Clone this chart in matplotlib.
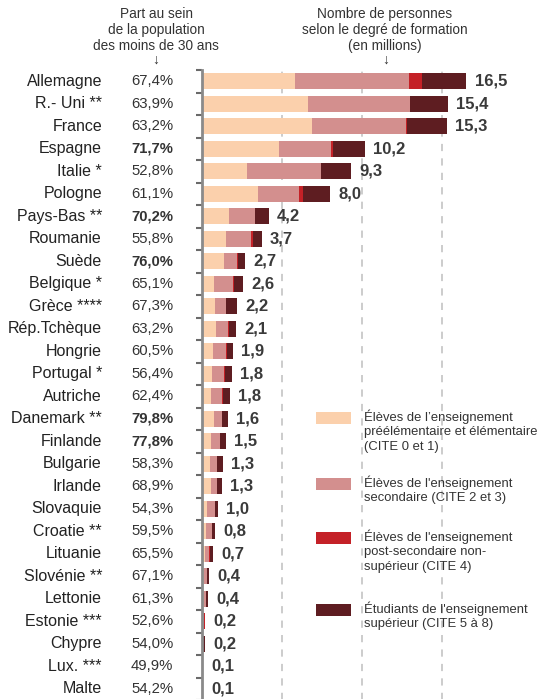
import matplotlib
matplotlib.use("Agg")
import matplotlib.pyplot as plt
from matplotlib import transforms
from matplotlib.patches import Rectangle

plt.rcParams['font.family'] = ['Liberation Sans', 'DejaVu Sans']

countries = ["Allemagne", "R.- Uni **", "France", "Espagne", "Italie *", "Pologne",
             "Pays-Bas **", "Roumanie", "Suède", "Belgique *", "Grèce ****", "Rép.Tchèque",
             "Hongrie", "Portugal *", "Autriche", "Danemark **", "Finlande", "Bulgarie",
             "Irlande", "Slovaquie", "Croatie **", "Lituanie", "Slovénie **", "Lettonie",
             "Estonie ***", "Chypre", "Lux. ***", "Malte"]
part = ["67,4%", "63,9%", "63,2%", "71,7%", "52,8%", "61,1%", "70,2%", "55,8%", "76,0%",
        "65,1%", "67,3%", "63,2%", "60,5%", "56,4%", "62,4%", "79,8%", "77,8%", "58,3%",
        "68,9%", "54,3%", "59,5%", "65,5%", "67,1%", "61,3%", "52,6%", "54,0%", "49,9%", "54,2%"]
part_bold = ["Espagne", "Pays-Bas **", "Suède", "Danemark **", "Finlande"]
totals = ["16,5", "15,4", "15,3", "10,2", "9,3", "8,0", "4,2", "3,7", "2,7", "2,6", "2,2",
          "2,1", "1,9", "1,8", "1,8", "1,6", "1,5", "1,3", "1,3", "1,0", "0,8", "0,7",
          "0,4", "0,4", "0,2", "0,2", "0,1", "0,1"]

# millions d'eleves / etudiants par niveau
cite01 = [5.79, 6.60, 6.85, 4.79, 2.79, 3.48, 1.67, 1.48, 1.35, 0.73, 0.79, 0.85, 0.67, 0.60,
          0.54, 0.73, 0.56, 0.48, 0.54, 0.29, 0.23, 0.17, 0.14, 0.13, 0.08, 0.03, 0.02, 0.03]
cite23 = [7.13, 6.38, 5.92, 3.29, 4.63, 2.56, 1.62, 1.58, 0.83, 1.21, 0.69, 0.77, 0.81, 0.75,
          0.71, 0.50, 0.56, 0.46, 0.40, 0.50, 0.37, 0.25, 0.15, 0.12, 0.04, 0.05, 0.02, 0.03]
cite4 = [0.81, 0.00, 0.06, 0.08, 0.00, 0.25, 0.00, 0.13, 0.06, 0.04, 0.00, 0.06, 0.10, 0.06,
         0.06, 0.00, 0.00, 0.00, 0.00, 0.00, 0.00, 0.06, 0.00, 0.00, 0.06, 0.00, 0.02, 0.00]
cite58 = [2.79, 2.37, 2.46, 2.00, 1.87, 1.69, 0.88, 0.54, 0.42, 0.56, 0.69, 0.42, 0.33, 0.44,
          0.45, 0.37, 0.35, 0.35, 0.31, 0.19, 0.19, 0.19, 0.12, 0.13, 0.02, 0.10, 0.03, 0.01]

series = [cite01, cite23, cite4, cite58]
colors = ["#FBD0AC", "#D38F8E", "#C42127", "#5E1D21"]
legend_labels = ["Élèves de l\u2019enseignement\npréélémentaire et élémentaire\n(CITE 0 et 1)",
                 "Élèves de l'enseignement\nsecondaire (CITE 2 et 3)",
                 "Élèves de l'enseignement\npost-secondaire non-\nsupérieur (CITE 4)",
                 "Étudiants de l'enseignement\nsupérieur (CITE 5 à 8)"]

W, H = 544, 699
fig = plt.figure(figsize=(W / 100, H / 100), dpi=100)
ax = fig.add_axes([202 / W, (H - 700) / H, (W - 202) / W, 630 / H])

n = len(countries)
ypos = list(range(n))
left = [0.0] * n
for vals, c in zip(series, colors):
    ax.barh(ypos, vals, left=left, height=0.7, color=c, linewidth=0)
    left = [l + v for l, v in zip(left, vals)]

for i in range(n):
    ax.annotate(totals[i], (left[i], i), xytext=(6, 0), textcoords="offset points",
                ha="left", va="center", fontsize=12, fontweight="bold", color="#3a3a3a")

ax.set_xlim(0, (W - 202) / 16)
ax.set_ylim(n - 0.5, -0.5)
for g in [5, 10, 15]:
    ax.axvline(g, color="#c8c8c8", linestyle=(0, (4, 4)), linewidth=1.3, zorder=0)

for s in ["top", "right", "bottom"]:
    ax.spines[s].set_visible(False)
ax.spines["left"].set_color("#8a8a8a")
ax.spines["left"].set_linewidth(2)
ax.set_xticks([])
ax.set_yticks([i - 0.5 for i in range(n + 1)])
ax.set_yticklabels([])
ax.tick_params(axis="y", direction="out", length=4, width=1.5, color="#6a6a6a")

tr = transforms.blended_transform_factory(fig.transFigure, ax.transData)
for i in range(n):
    ax.text(102 / W, i, countries[i], transform=tr, ha="right", va="center",
            fontsize=11.5, color="#222222")
    bold = countries[i] in part_bold
    ax.text(131 / W, i, part[i], transform=tr, ha="left", va="center", fontsize=10.7,
            fontweight="bold" if bold else "normal", color="#333333")

fig.text(156 / W, 1 - 7 / H, "Part au sein\nde la population\ndes moins de 30 ans",
         ha="center", va="top", fontsize=9.8, color="#333333", linespacing=1.2)
fig.text(156 / W, 1 - 60 / H, "\u2193", ha="center", va="center", fontsize=10, color="#333333")
fig.text(385 / W, 1 - 7 / H, "Nombre de personnes\nselon le degré de formation\n(en millions)",
         ha="center", va="top", fontsize=9.8, color="#333333", linespacing=1.2)
fig.text(386 / W, 1 - 60 / H, "\u2193", ha="center", va="center", fontsize=10, color="#333333")

leg_y = [418, 484, 538, 610]
for yy, c, lab in zip(leg_y, colors, legend_labels):
    fig.patches.append(Rectangle((316 / W, 1 - (yy + 6) / H), 35 / W, 12 / H,
                                 transform=fig.transFigure, color=c, linewidth=0))
    fig.text(364 / W, 1 - (yy - 9) / H, lab, ha="left", va="top", fontsize=9.4,
             color="#333333", linespacing=1.3)

fig.savefig("out.png", dpi=100)
